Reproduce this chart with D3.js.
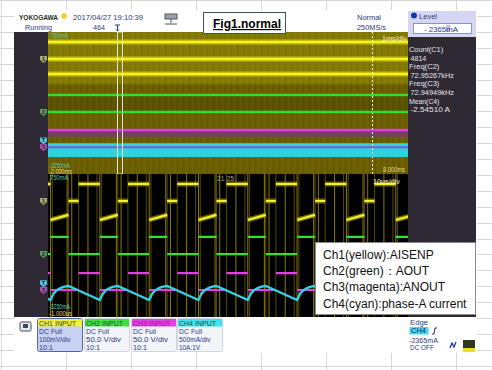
<!DOCTYPE html>
<html>
<head>
<meta charset="utf-8">
<script src="https://cdn.jsdelivr.net/npm/d3@7"></script>
<style>
  html, body { margin: 0; padding: 0; background: #fff; }
  svg { display: block; }
  text { font-family: "Liberation Sans", Arial, sans-serif; }
</style>
</head>
<body>
<svg id="chart" width="492" height="370"></svg>
<script>
// ---- values ----
// one switching period in the zoom window (10us/div, 10 div)
const periodUs = 13.7;          // ~73 kHz
const firstEdgeUs = 0.7;        // start of the first "low" phase
const phaseDurUs = [5.0, 2.8, 5.9];   // low, mid, high
// channel levels in divisions (screen is +-4 div)
const ch1Levels = [[1.43, 1.71], [2.49, 2.49], [3.44, 3.44]];
const ch2Levels = [0.48, -0.48, -0.48];
const ch3Levels = [-2.49, -2.49, -1.54];
// ch4 current in mA: rise during low phase, then a linear fall
const ch4Rise = [-2774, -2600, -2510, -2455, -2418, -2395, -2383];
const ch4Trough = -2774;
// ringing spikes of ch1, offsets inside a period (us)
const spikeOffsetsUs = [0, 0.5, 4.6, 5.0, 5.9, 7.8, 10.4, 12.9];

// overview window (1ms/div): dwell levels
const ovYellow = [3.44, 2.48, 1.63];
const ovGreen = [0.45, -0.51];
const ovMagenta = [-1.52];
const ovMagentaHaze = [-1.52, -1.9];
const ovCyan = [-2383, -2774];

const measLabels = ['Count(C1)', 'Freq(C2)', 'Freq(C3)', 'Mean(C4)'];
const measValues = ['4814', '72.95267kHz', '72.94949kHz', '-2.54510 A'];

const chNames = ['CH1 INPUT', 'CH2 INPUT', 'CH3 INPUT', 'CH4 INPUT'];
const chCoupling = ['DC Full', 'DC Full', 'DC Full', 'DC Full'];
const chVdiv = ['100mV/div', '50.0 V/div', '50.0 V/div', '500mA/div'];
const chProbe = ['10:1', '10:1', '10:1', '10A:1V'];
const chColors = ['#f2ee3a', '#3ee23e', '#e23ee2', '#3fe3ef'];

const legendLines = ['Ch1(yellow):AISENP', 'Ch2(green)\uff1aAOUT', 'Ch3(magenta):ANOUT', 'Ch4(cyan):phase-A current'];

// ---- layout ----
const svg = d3.select('#chart');
const scr = { x0: 48, x1: 408, ovTop: 32, ovBot: 174, zTop: 174, zBot: 317 };

function txt(g, x, y, s, size, fill, len, weight) {
  const t = g.append('text')
    .attr('x', x).attr('y', y)
    .attr('font-size', size)
    .attr('fill', fill)
    .text(s);
  if (len) t.attr('textLength', len).attr('lengthAdjust', 'spacingAndGlyphs');
  if (weight) t.attr('font-weight', weight);
  return t;
}

// spreadsheet grid behind the screenshot
const sheet = svg.append('g');
d3.range(1, 492, 65).forEach(x => {
  sheet.append('line').attr('x1', x + 0.5).attr('x2', x + 0.5).attr('y1', 0).attr('y2', 370)
    .attr('stroke', '#d6d6d6');
});
d3.range(0, 370, 15.9).forEach(y => {
  sheet.append('line').attr('x1', 0).attr('x2', 492).attr('y1', Math.round(y) + 0.5).attr('y2', Math.round(y) + 0.5)
    .attr('stroke', '#d6d6d6');
});

// screenshot frame
svg.append('rect').attr('x', 14).attr('y', 10).attr('width', 463).attr('height', 343).attr('fill', '#fff');

// dark side bands
svg.append('rect').attr('x', 14).attr('y', 32).attr('width', 34).attr('height', 285).attr('fill', '#2e2932');
svg.append('rect').attr('x', 408).attr('y', 36).attr('width', 68).attr('height', 281).attr('fill', '#2e2932');

// ---- overview window ----
const ovY = d3.scaleLinear().domain([-4, 4]).range([scr.ovBot, scr.ovTop]);
const ovMA = d3.scaleLinear().domain([-3250, 750]).range([scr.ovBot, scr.ovTop]);
const ov = svg.append('g');
ov.append('rect').attr('x', scr.x0).attr('y', scr.ovTop).attr('width', scr.x1 - scr.x0)
  .attr('height', scr.ovBot - scr.ovTop).attr('fill', '#6c5f02');
ov.append('rect').attr('x', scr.x0).attr('y', ovY(4)).attr('width', scr.x1 - scr.x0)
  .attr('height', ovY(1.05) - ovY(4)).attr('fill', '#847a06');
ov.append('rect').attr('x', scr.x0).attr('y', ovY(0.45)).attr('width', scr.x1 - scr.x0)
  .attr('height', ovY(-0.51) - ovY(0.45)).attr('fill', '#5c5204');
// persistence streaks
d3.range(scr.x0, scr.x1, 3).forEach((x, i) => {
  ov.append('line').attr('x1', x + 0.5).attr('x2', x + 0.5).attr('y1', scr.ovTop).attr('y2', scr.ovBot)
    .attr('stroke', i % 2 ? '#000' : '#a89a10').attr('stroke-opacity', 0.08);
});
// magenta haze + cyan envelope
ov.append('rect').attr('x', scr.x0).attr('y', ovY(ovMagentaHaze[0])).attr('width', scr.x1 - scr.x0)
  .attr('height', ovY(ovMagentaHaze[1]) - ovY(ovMagentaHaze[0])).attr('fill', '#7a3e66');
ov.append('rect').attr('x', scr.x0).attr('y', ovMA(ovCyan[0])).attr('width', scr.x1 - scr.x0)
  .attr('height', ovMA(ovCyan[1]) - ovMA(ovCyan[0])).attr('fill', '#2ed2dc');

function ovLine(v, color, w, yScale) {
  ov.append('line').attr('x1', scr.x0).attr('x2', scr.x1)
    .attr('y1', yScale(v)).attr('y2', yScale(v))
    .attr('stroke', color).attr('stroke-width', w);
}
ovYellow.forEach(v => { ovLine(v, '#c8c000', 5, ovY); ovLine(v, '#f4f028', 2, ovY); });
ovGreen.forEach(v => ovLine(v, '#2ee02e', 2.5, ovY));
ovMagenta.forEach(v => ovLine(v, '#e03ee0', 2.5, ovY));
ovLine(ch3Levels[0], '#7a5ad6', 2, ovY);

// zoom box and trigger position marker
ov.append('rect').attr('x', 117.5).attr('y', scr.ovTop).attr('width', 5).attr('height', scr.ovBot - scr.ovTop)
  .attr('fill', 'none').attr('stroke', '#e8e6d2').attr('stroke-width', 1);
ov.append('line').attr('x1', 372.5).attr('x2', 372.5).attr('y1', scr.ovTop).attr('y2', scr.ovBot)
  .attr('stroke', '#f0f0e0').attr('stroke-dasharray', '2,2');

txt(ov, 50, 38, '750mA', 7, '#5cc8b0', 18);
txt(ov, 49, 168, '-3250mA', 7, '#5cc8b0', 21);
txt(ov, 49, 174, '-2.000ms', 7, '#e0d890', 23);
txt(ov, 383, 172, '8.000ms', 7, '#e0d890', 22);
txt(ov, 382, 41, '1ms/div', 7.5, '#f4f0c0', 25);

// ---- zoom window ----
const zx = d3.scaleLinear().domain([0, 100]).range([scr.x0, scr.x1]);
const zy = d3.scaleLinear().domain([-4, 4]).range([scr.zBot, scr.zTop]);
const zMA = d3.scaleLinear().domain([-3250, 750]).range([scr.zBot, scr.zTop]);

svg.append('clipPath').attr('id', 'zclip').append('rect')
  .attr('x', scr.x0).attr('y', scr.zTop).attr('width', scr.x1 - scr.x0).attr('height', scr.zBot - scr.zTop);
const zw = svg.append('g');
zw.append('rect').attr('x', scr.x0).attr('y', scr.zTop).attr('width', scr.x1 - scr.x0)
  .attr('height', scr.zBot - scr.zTop).attr('fill', '#000');
const zg = zw.append('g').attr('clip-path', 'url(#zclip)');

const periods = d3.range(-1, 9);
const phaseStart = [0, phaseDurUs[0], phaseDurUs[0] + phaseDurUs[1]];

// ringing spikes
periods.forEach(k => {
  spikeOffsetsUs.forEach((o, j) => {
    const x = zx(firstEdgeUs + k * periodUs + o);
    zg.append('line').attr('x1', x).attr('x2', x).attr('y1', scr.zTop).attr('y2', scr.zBot)
      .attr('stroke', '#b8a414').attr('stroke-opacity', j % 2 ? 0.45 : 0.75).attr('stroke-width', 1);
  });
});

// fast edges are invisible on the scope, so each dwell level is its own segment
const line = d3.line().defined(d => d !== null).x(d => zx(d[0])).y(d => d[1]);

function stepPoints(levels) {
  const pts = [];
  let prev = null;
  periods.forEach(k => {
    const t0 = firstEdgeUs + k * periodUs;
    levels.forEach((lv, i) => {
      const a = Array.isArray(lv) ? lv : [lv, lv];
      if (prev !== null && Math.abs(prev - a[0]) > 0.2) pts.push(null);
      pts.push([t0 + phaseStart[i], zy(a[0])]);
      pts.push([t0 + phaseStart[i] + phaseDurUs[i], zy(a[1])]);
      prev = a[1];
    });
  });
  return pts;
}
function ch4Points() {
  const pts = [];
  periods.forEach(k => {
    const t0 = firstEdgeUs + k * periodUs;
    ch4Rise.forEach((v, i) => pts.push([t0 + phaseDurUs[0] * i / (ch4Rise.length - 1), zMA(v)]));
    pts.push([t0 + periodUs, zMA(ch4Trough)]);
  });
  return pts;
}

const ch1 = stepPoints(ch1Levels);
zg.append('path').attr('d', line(ch1)).attr('fill', 'none').attr('stroke', '#9c9410').attr('stroke-width', 5).attr('stroke-opacity', 0.7);
zg.append('path').attr('d', line(ch1)).attr('fill', 'none').attr('stroke', '#f4f030').attr('stroke-width', 2.2);
zg.append('path').attr('d', line(stepPoints(ch2Levels))).attr('fill', 'none').attr('stroke', '#34e034').attr('stroke-width', 2.2);
zg.append('path').attr('d', line(stepPoints(ch3Levels))).attr('fill', 'none').attr('stroke', '#e23ee6').attr('stroke-width', 2.2);
zg.append('path').attr('d', line(ch4Points())).attr('fill', 'none').attr('stroke', '#36cfe6').attr('stroke-width', 2.4);

txt(zw, 50, 180, '750mA', 7, '#5cc8b0', 18);
txt(zw, 49, 309, '-3250mA', 7, '#5cc8b0', 21);
txt(zw, 49, 316, '-1.000us', 7, '#e0d890', 23);
txt(zw, 373, 184, '10us/div', 7.5, '#f4f0c0', 27);
txt(zw, 217, 181, '21  25', 6.5, '#a0a090', 17);

// level markers on the left band
const markers = [
  { y: ovY(2.48), c: '#a8a870', s: '1' }, { y: ovY(-0.51), c: '#58a058', s: '2' },
  { y: ovMA(-2365) - 2, c: '#4ec8e0', s: 'T' }, { y: ovY(-2.49), c: '#b050c0', s: '3' },
  { y: zy(2.49), c: '#a8a870', s: '1' }, { y: zy(-0.48), c: '#58a058', s: '2' },
  { y: zMA(-2365) - 2, c: '#4ec8e0', s: 'T' }, { y: zy(-2.49), c: '#b050c0', s: '3' }
];
markers.forEach(m => {
  svg.append('path')
    .attr('d', `M40,${m.y - 3}h7v4l-3.5,3l-3.5,-3z`)
    .attr('fill', m.c);
  txt(svg, 41.7, m.y + 1.8, m.s, 5.5, '#2e2932', 3.5, 'bold');
});

// ---- header ----
const hd = svg.append('g');
txt(hd, 19, 20, 'YOKOGAWA', 8, '#1e3020', 39, 'bold');
hd.append('path').attr('d', 'M64,12.5l3.5,3.5l-3.5,3.5l-3.5,-3.5z').attr('fill', '#f0d020');
txt(hd, 73, 20, '2017/04/27 19:10:39', 8, '#2a3a80', 70);
txt(hd, 25, 30, 'Running', 8, '#2a3a80', 27);
txt(hd, 93, 30, '464', 8, '#2a3a80', 12);
hd.append('path').attr('d', 'M115,25h5M117.5,25v6M116,29.5l1.5,1.5l1.5,-1.5').attr('stroke', '#2a3a80').attr('fill', 'none').attr('stroke-width', 1);
// network icon
hd.append('rect').attr('x', 165).attr('y', 14).attr('width', 12).attr('height', 5).attr('fill', '#9aa0b0').attr('stroke', '#555');
hd.append('path').attr('d', 'M171,19v4M165,24h12').attr('stroke', '#555').attr('stroke-width', 1);

txt(hd, 357, 20, 'Normal', 8, '#2a3a80', 24);
txt(hd, 357, 30, '250MS/s', 8, '#2a3a80', 29);

// Fig1 label box
hd.append('rect').attr('x', 203.5).attr('y', 12.5).attr('width', 82).attr('height', 21)
  .attr('fill', '#fff').attr('stroke', '#41505e').attr('stroke-width', 1);
txt(hd, 213, 28, 'Fig1.normal', 12, '#000', null, 'bold')
  .attr('text-decoration', 'underline').attr('font-family', '"Noto Sans", sans-serif');

// level box
hd.append('rect').attr('x', 408).attr('y', 11).attr('width', 68).attr('height', 26).attr('fill', '#d4d6f4');
hd.append('circle').attr('cx', 414).attr('cy', 15.5).attr('r', 3).attr('fill', '#1838a8');
txt(hd, 419, 19, 'Level', 8, '#2a3a80', 18);
hd.append('rect').attr('x', 413.5).attr('y', 23.5).attr('width', 58).attr('height', 10)
  .attr('fill', '#fff').attr('stroke', '#7080b0').attr('stroke-width', 0.8);
hd.append('rect').attr('x', 446).attr('y', 25).attr('width', 4).attr('height', 7).attr('fill', '#c8b8e8');
txt(hd, 424, 31.5, '- 2365mA', 8, '#2a3a80', 34);

// measurements
const ms = svg.append('g');
measLabels.forEach((l, i) => {
  txt(ms, 409, 52 + i * 17.2, l, 8, '#e8e6ee', l.length * 3.8);
  txt(ms, 410.5, 60.5 + i * 17.2, measValues[i], 8, '#e8e6ee', measValues[i].length * 3.95);
});

// ---- channel boxes ----
const cb = svg.append('g');
const boxX = [37, 84, 131, 177];
chNames.forEach((n, i) => {
  const x = boxX[i];
  cb.append('rect').attr('x', x + 0.5).attr('y', 318.5).attr('width', 45).attr('height', 33).attr('rx', 2)
    .attr('fill', i === 0 ? '#c9d1f2' : '#f3f4f8').attr('stroke', i === 0 ? '#5566a8' : '#d0d4e0');
  cb.append('rect').attr('x', x + 1).attr('y', 319).attr('width', 44).attr('height', 7.5).attr('fill', chColors[i]);
  txt(cb, x + 2, 325.5, n, 7, i === 2 ? '#9a20a0' : '#2a4a40', 37);
  txt(cb, x + 2, 334, chCoupling[i], 7.5, '#2a3a80', 23);
  txt(cb, x + 2, 342, chVdiv[i], 7.5, '#2a3a80', chVdiv[i].length * 3.5);
  txt(cb, x + 2, 350, chProbe[i], 7.5, '#2a3a80', chProbe[i].length * 3.5);
});
// small icon left of boxes
cb.append('rect').attr('x', 20).attr('y', 322).attr('width', 11).attr('height', 9).attr('rx', 1.5)
  .attr('fill', '#e8eaf0').attr('stroke', '#404858');
cb.append('rect').attr('x', 23).attr('y', 324).attr('width', 5).attr('height', 4).attr('fill', '#404858');

// trigger info bottom right
txt(cb, 410, 324.5, 'Edge', 7, '#2a3a80', 18);
cb.append('rect').attr('x', 409.5).attr('y', 327).attr('width', 19).attr('height', 7.5).attr('fill', '#4ad6ee');
txt(cb, 411, 333, 'CH4', 7, '#1a2a70', 15);
cb.append('path').attr('d', 'M432,334h2l1,-6h2').attr('stroke', '#1a2a70').attr('fill', 'none');
txt(cb, 409, 342.5, '-2365mA', 7, '#2a3a80', 29);
txt(cb, 410, 350, 'DC OFF', 7, '#2a3a80', 24);
cb.append('path').attr('d', 'M450,348l2,-5l2,4l2,-5').attr('stroke', '#2030a0').attr('fill', 'none').attr('stroke-width', 1.3);
cb.append('rect').attr('x', 463).attr('y', 340).attr('width', 12).attr('height', 12).attr('fill', '#2e3a20');
cb.append('rect').attr('x', 463).attr('y', 348).attr('width', 12).attr('height', 4).attr('fill', '#e8e020');

// ---- legend ----
const lg = svg.append('g');
lg.append('rect').attr('x', 315.5).attr('y', 242.5).attr('width', 160).attr('height', 72)
  .attr('fill', '#fff').attr('stroke', '#8a8a8a').attr('stroke-width', 1);
legendLines.forEach((s, i) => {
  lg.append('text').attr('x', 323).attr('y', 258.5 + i * 16.4)
    .attr('font-size', 12).attr('fill', '#111')
    .attr('font-family', '"Noto Sans", "Noto Sans CJK JP", sans-serif')
    .text(s);
});
</script>
</body>
</html>
